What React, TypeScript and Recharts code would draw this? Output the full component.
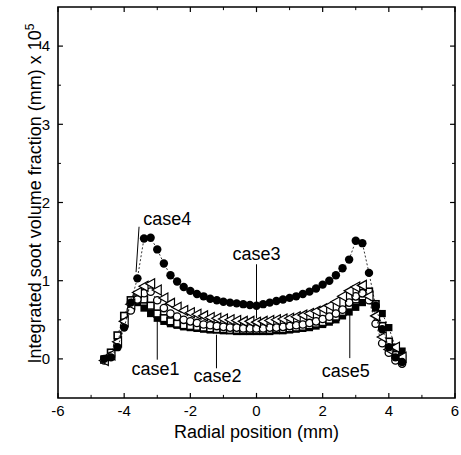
import React from 'react';
import {
  ScatterChart, Scatter, XAxis, YAxis, ReferenceLine, ReferenceArea, ReferenceDot,
} from 'recharts';

const xs = [-4.6, -4.4, -4.2, -4.0, -3.8, -3.6, -3.4, -3.2, -3.0, -2.8, -2.6, -2.4, -2.2, -2.0, -1.8, -1.6, -1.4, -1.2, -1.0, -0.8, -0.6, -0.4, -0.2, 0, 0.2, 0.4, 0.6, 0.8, 1.0, 1.2, 1.4, 1.6, 1.8, 2.0, 2.2, 2.4, 2.6, 2.8, 3.0, 3.2, 3.4, 3.6, 3.8, 4.0, 4.2, 4.4];

const case1 = [0.0, 0.05, 0.22, 0.5, 0.68, 0.72, 0.65, 0.58, 0.52, 0.48, 0.45, 0.43, 0.41, 0.4, 0.39, 0.38, 0.37, 0.37, 0.36, 0.36, 0.35, 0.35, 0.35, 0.35, 0.35, 0.35, 0.36, 0.36, 0.37, 0.38, 0.39, 0.4, 0.42, 0.44, 0.47, 0.5, 0.55, 0.6, 0.66, 0.72, 0.78, 0.65, 0.58, 0.4, 0.15, 0.1];
const case2 = [-0.02, 0.04, 0.18, 0.42, 0.62, 0.76, 0.84, 0.86, 0.75, 0.65, 0.58, 0.54, 0.5, 0.48, 0.46, 0.44, 0.43, 0.42, 0.41, 0.4, 0.4, 0.39, 0.39, 0.39, 0.39, 0.4, 0.4, 0.41, 0.42, 0.43, 0.44, 0.46, 0.48, 0.51, 0.54, 0.58, 0.63, 0.72, 0.8, 0.84, 0.75, 0.45, 0.2, 0.08, -0.02, -0.06];
const case3 = [-0.02, 0.05, 0.22, 0.48, 0.7, 0.85, 0.93, 0.96, 0.88, 0.78, 0.71, 0.66, 0.62, 0.59, 0.57, 0.55, 0.53, 0.52, 0.51, 0.5, 0.49, 0.48, 0.48, 0.47, 0.48, 0.49, 0.5, 0.51, 0.52, 0.54, 0.56, 0.58, 0.61, 0.64, 0.68, 0.73, 0.8, 0.87, 0.92, 0.94, 0.8, 0.55, 0.28, 0.12, 0.15, 0.02];
const case4 = [0.0, 0.02, 0.15, 0.4, 0.72, 1.03, 1.54, 1.55, 1.4, 1.22, 1.07, 0.99, 0.92, 0.87, 0.83, 0.8, 0.77, 0.75, 0.73, 0.72, 0.71, 0.7, 0.69, 0.68, 0.7, 0.72, 0.74, 0.76, 0.78, 0.8, 0.83, 0.86, 0.9, 0.95, 1.0, 1.07, 1.16, 1.27, 1.51, 1.48, 1.1, 0.68, 0.38, 0.15, 0.02, -0.04];
const case5 = [-0.01, 0.08, 0.3, 0.55, 0.75, 0.8, 0.76, 0.68, 0.58, 0.52, 0.48, 0.45, 0.43, 0.42, 0.41, 0.4, 0.39, 0.38, 0.38, 0.37, 0.37, 0.37, 0.37, 0.37, 0.37, 0.37, 0.38, 0.38, 0.39, 0.4, 0.41, 0.43, 0.45, 0.47, 0.5, 0.54, 0.6, 0.68, 0.76, 0.84, 0.86, 0.7, 0.42, 0.22, 0.05, 0.0];

const xTicks = [-6, -4, -2, 0, 2, 4, 6];
const xMinorTicks = [-5, -3, -1, 1, 3, 5];
const yTicks = [0, 1, 2, 3, 4];
const yMinorTicks = [0.5, 1.5, 2.5, 3.5];

// annotation labels: [text, x, y]
const labelNames = ['case4', 'case3', 'case1', 'case2', 'case5'];
const labelX = [-2.7, 0, -3.05, -1.18, 2.7];
const labelY = [1.8, 1.35, -0.12, -0.22, -0.15];
// leader lines: x1, y1, x2, y2
const leaderX1 = [-3.55, 0, -3.0, -1.21, 2.82];
const leaderY1 = [1.69, 1.21, -0.01, -0.12, 0.01];
const leaderX2 = [-3.64, 0, -3.0, -1.21, 2.82];
const leaderY2 = [1.11, 0.52, 0.49, 0.31, 0.72];

const X_MIN = -6, X_MAX = 6, Y_MIN = -0.5, Y_MAX = 4.5;
const FONT = '"Liberation Sans", Arial, Helvetica, sans-serif';

const mk = (vals: number[]) => xs.map((x, i) => ({ x, y: vals[i] }));

const FilledCircle = (p: any) => <circle cx={p.cx} cy={p.cy} r={4.2} fill="#000" />;
const OpenCircle = (p: any) => <circle cx={p.cx} cy={p.cy} r={3.7} fill="#fff" stroke="#000" strokeWidth={1.3} />;
const FilledSquare = (p: any) => <rect x={p.cx - 3.6} y={p.cy - 3.6} width={7.2} height={7.2} fill="#000" />;
const OpenSquare = (p: any) => <rect x={p.cx - 3.4} y={p.cy - 3.4} width={6.8} height={6.8} fill="#fff" stroke="#000" strokeWidth={1.6} />;
const OpenTriangle = (p: any) => (
  <polygon
    points={`${p.cx - 5},${p.cy} ${p.cx + 4},${p.cy - 5} ${p.cx + 4},${p.cy + 5}`}
    fill="#fff" stroke="#000" strokeWidth={1.2}
  />
);

const lineProps = { stroke: '#000', strokeWidth: 0.8, strokeDasharray: '2 2' };

export default function App() {
  return (
    <div style={{ position: 'absolute', left: 0, top: 0, background: '#fff', fontFamily: FONT }}>
      <ScatterChart width={461} height={455} margin={{ top: 7, right: 6, bottom: 0, left: 0 }}>
        <XAxis
          type="number" dataKey="x" domain={[X_MIN, X_MAX]} ticks={xTicks} allowDataOverflow
          axisLine={false} tickLine={false} tickSize={0} tickMargin={7} height={57}
          tick={{ fill: '#000', fontSize: 15, fontFamily: FONT }}
          label={{
            content: (props: any) => {
              const vb = props.viewBox || { x: 58, y: 398, width: 397 };
              return (
                <text x={vb.x + vb.width / 2} y={vb.y + 40} textAnchor="middle" fontSize={18} fontFamily={FONT} fill="#000">
                  Radial position (mm)
                </text>
              );
            },
          }}
        />
        <YAxis
          type="number" dataKey="y" domain={[Y_MIN, Y_MAX]} ticks={yTicks} allowDataOverflow
          axisLine={false} tickLine={false} tickSize={0} tickMargin={8} width={58}
          tick={{ fill: '#000', fontSize: 15, fontFamily: FONT }}
          label={{
            content: (props: any) => {
              const vb = props.viewBox || { x: 0, y: 7, width: 58, height: 391 };
              const cx = 41;
              const cy = vb.y + vb.height / 2 - 9;
              return (
                <text x={cx} y={cy} transform={`rotate(-90, ${cx}, ${cy})`} textAnchor="middle" fontSize={18} fontFamily={FONT} fill="#000">
                  Integrated soot volume fraction (mm) x 10
                  <tspan dy={-7} fontSize={12}>5</tspan>
                </text>
              );
            },
          }}
        />

        <ReferenceArea x1={X_MIN} x2={X_MAX} y1={Y_MIN} y2={Y_MAX} fill="none" stroke="#000" strokeWidth={1.6} fillOpacity={0} />

        {xTicks.map((t) => (
          <ReferenceLine key={`xb${t}`} segment={[{ x: t, y: Y_MIN }, { x: t, y: Y_MIN + 0.065 }]} stroke="#000" strokeWidth={1.2} />
        ))}
        {xTicks.map((t) => (
          <ReferenceLine key={`xt${t}`} segment={[{ x: t, y: Y_MAX }, { x: t, y: Y_MAX - 0.065 }]} stroke="#000" strokeWidth={1.2} />
        ))}
        {xMinorTicks.map((t) => (
          <ReferenceLine key={`xbm${t}`} segment={[{ x: t, y: Y_MIN }, { x: t, y: Y_MIN + 0.04 }]} stroke="#000" strokeWidth={1} />
        ))}
        {xMinorTicks.map((t) => (
          <ReferenceLine key={`xtm${t}`} segment={[{ x: t, y: Y_MAX }, { x: t, y: Y_MAX - 0.04 }]} stroke="#000" strokeWidth={1} />
        ))}
        {yTicks.map((t) => (
          <ReferenceLine key={`yl${t}`} segment={[{ x: X_MIN, y: t }, { x: X_MIN + 0.15, y: t }]} stroke="#000" strokeWidth={1.2} />
        ))}
        {yTicks.map((t) => (
          <ReferenceLine key={`yr${t}`} segment={[{ x: X_MAX, y: t }, { x: X_MAX - 0.15, y: t }]} stroke="#000" strokeWidth={1.2} />
        ))}
        {yMinorTicks.map((t) => (
          <ReferenceLine key={`ylm${t}`} segment={[{ x: X_MIN, y: t }, { x: X_MIN + 0.09, y: t }]} stroke="#000" strokeWidth={1} />
        ))}
        {yMinorTicks.map((t) => (
          <ReferenceLine key={`yrm${t}`} segment={[{ x: X_MAX, y: t }, { x: X_MAX - 0.09, y: t }]} stroke="#000" strokeWidth={1} />
        ))}

        <Scatter name="case1" data={mk(case1)} shape={FilledSquare} line={lineProps} isAnimationActive={false} />
        <Scatter name="case5" data={mk(case5)} shape={OpenSquare} line={lineProps} isAnimationActive={false} />
        <Scatter name="case2" data={mk(case2)} shape={OpenCircle} line={lineProps} isAnimationActive={false} />
        <Scatter name="case3" data={mk(case3)} shape={OpenTriangle} line={lineProps} isAnimationActive={false} />
        <Scatter name="case4" data={mk(case4)} shape={FilledCircle} line={lineProps} isAnimationActive={false} />

        {labelNames.map((n, i) => (
          <ReferenceLine
            key={`ll${n}`}
            segment={[{ x: leaderX1[i], y: leaderY1[i] }, { x: leaderX2[i], y: leaderY2[i] }]}
            stroke="#000" strokeWidth={1}
          />
        ))}
        {labelNames.map((n, i) => (
          <ReferenceDot
            key={`ld${n}`}
            x={labelX[i]} y={labelY[i]} r={0} fill="none" stroke="none"
            label={{ value: n, position: 'center', fontSize: 18, fill: '#000', fontFamily: FONT }}
          />
        ))}
      </ScatterChart>
    </div>
  );
}
